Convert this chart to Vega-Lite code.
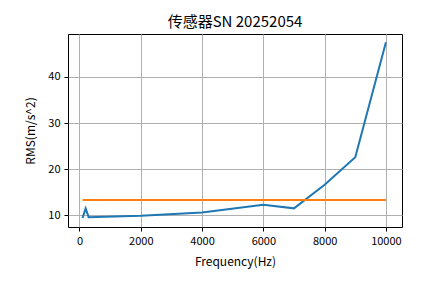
{
  "$schema": "https://vega.github.io/schema/vega-lite/v6.json",
  "autosize": "none",
  "width": 334,
  "height": 193,
  "padding": {"left": 68, "top": 34, "right": 43, "bottom": 56},
  "background": "white",
  "title": {
    "text": "传感器SN 20252054",
    "font": "Noto Sans CJK SC",
    "fontSize": 15,
    "fontWeight": "normal",
    "color": "black",
    "offset": 4
  },
  "config": {
    "view": {"stroke": "black", "strokeWidth": 1},
    "axis": {
      "labelFont": "Noto Sans CJK SC",
      "titleFont": "Noto Sans CJK SC",
      "labelFontSize": 11,
      "titleFontSize": 12,
      "titleFontWeight": "normal",
      "labelColor": "black",
      "titleColor": "black",
      "grid": true,
      "gridColor": "#b0b0b0",
      "gridWidth": 1,
      "domain": false,
      "tickColor": "black",
      "tickSize": 4,
      "tickWidth": 1,
      "labelPadding": 4
    }
  },
  "data": {
    "values": [
      {"freq": 100, "rms": 9.4, "series": "rms"},
      {"freq": 200, "rms": 11.5, "series": "rms"},
      {"freq": 300, "rms": 9.6, "series": "rms"},
      {"freq": 2000, "rms": 9.9, "series": "rms"},
      {"freq": 4000, "rms": 10.6, "series": "rms"},
      {"freq": 6000, "rms": 12.3, "series": "rms"},
      {"freq": 7000, "rms": 11.5, "series": "rms"},
      {"freq": 8000, "rms": 16.6, "series": "rms"},
      {"freq": 9000, "rms": 22.6, "series": "rms"},
      {"freq": 10000, "rms": 47.5, "series": "rms"},
      {"freq": 100, "rms": 13.3, "series": "limit"},
      {"freq": 10000, "rms": 13.3, "series": "limit"}
    ]
  },
  "mark": {"type": "line", "strokeWidth": 2},
  "encoding": {
    "x": {
      "field": "freq",
      "type": "quantitative",
      "scale": {"domain": [-375, 10525], "nice": false, "zero": false},
      "axis": {"values": [0, 2000, 4000, 6000, 8000, 10000], "format": "d", "title": "Frequency(Hz)", "labelFlush": false, "titlePadding": 10}
    },
    "y": {
      "field": "rms",
      "type": "quantitative",
      "scale": {"domain": [7.46, 49.3], "nice": false, "zero": false},
      "axis": {"values": [10, 20, 30, 40], "title": "RMS(m/s^2)", "labelFlush": false, "titlePadding": 10}
    },
    "color": {
      "field": "series",
      "type": "nominal",
      "scale": {"domain": ["rms", "limit"], "range": ["#1f77b4", "#ff7f0e"]},
      "legend": null
    }
  }
}
